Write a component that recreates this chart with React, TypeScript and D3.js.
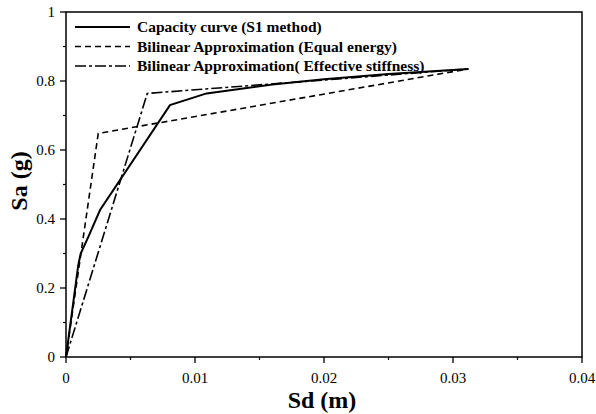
import * as d3 from "d3";

const width = 596;
const height = 414;
const margin = { top: 12, right: 14, bottom: 57, left: 66 };
const innerWidth = width - margin.left - margin.right;
const innerHeight = height - margin.top - margin.bottom;

// capacity curve (S1 method)
const capSd = [0, 0.00095, 0.00114, 0.00173, 0.00264, 0.00806, 0.0109, 0.016, 0.02, 0.025, 0.0312];
const capSa = [0, 0.266, 0.3, 0.348, 0.426, 0.73, 0.764, 0.79, 0.805, 0.82, 0.835];

// bilinear, equal energy
const eqSd = [0, 0.0025, 0.0312];
const eqSa = [0, 0.648, 0.835];

// bilinear, effective stiffness
const effSd = [0, 0.0063, 0.0312];
const effSa = [0, 0.764, 0.835];

const xTicks = [0, 0.01, 0.02, 0.03, 0.04];
const xTickLabels = ["0", "0.01", "0.02", "0.03", "0.04"];
const yTicks = [0, 0.2, 0.4, 0.6, 0.8, 1];
const yTickLabels = ["0", "0.2", "0.4", "0.6", "0.8", "1"];
const xMinor = [0.005, 0.015, 0.025, 0.035];
const yMinor = [0.1, 0.3, 0.5, 0.7, 0.9];

const legendLabels = [
  "Capacity curve (S1 method)",
  "Bilinear Approximation (Equal energy)",
  "Bilinear Approximation( Effective stiffness)",
];
const dashes = ["none", "6,4", "11,3,3,3"];
const widths = [2, 1.6, 1.6];

export default function App() {
  const x = d3.scaleLinear().domain([0, 0.04]).range([0, innerWidth]);
  const y = d3.scaleLinear().domain([0, 1]).range([innerHeight, 0]);

  const line = d3
    .line<[number, number]>()
    .x((d) => x(d[0]))
    .y((d) => y(d[1]));

  const series = [
    d3.zip(capSd, capSa) as [number, number][],
    d3.zip(eqSd, eqSa) as [number, number][],
    d3.zip(effSd, effSa) as [number, number][],
  ];

  const font = "'Liberation Serif', 'Times New Roman', serif";

  return (
    <svg width={width} height={height} style={{ position: "absolute", left: 0, top: 0 }}>
      <rect width={width} height={height} fill="#fff" />
      <g transform={`translate(${margin.left},${margin.top})`}>
        {series.map((s, i) => (
          <path
            key={i}
            d={line(s) ?? ""}
            fill="none"
            stroke="#000"
            strokeWidth={widths[i]}
            strokeDasharray={dashes[i]}
          />
        ))}

        <rect width={innerWidth} height={innerHeight} fill="none" stroke="#000" strokeWidth={1.5} />

        {xTicks.map((t, i) => (
          <g key={i} transform={`translate(${x(t)},${innerHeight})`}>
            <line y1={0} y2={6} stroke="#000" strokeWidth={1.3} />
            <text y={26} textAnchor="middle" fontFamily={font} fontSize={15}>
              {xTickLabels[i]}
            </text>
          </g>
        ))}
        {xMinor.map((t, i) => (
          <line key={i} x1={x(t)} x2={x(t)} y1={innerHeight} y2={innerHeight + 3} stroke="#000" strokeWidth={1.2} />
        ))}

        {yTicks.map((t, i) => (
          <g key={i} transform={`translate(0,${y(t)})`}>
            <line x1={-6} x2={0} stroke="#000" strokeWidth={1.3} />
            <text x={-11} dy="0.33em" textAnchor="end" fontFamily={font} fontSize={15}>
              {yTickLabels[i]}
            </text>
          </g>
        ))}
        {yMinor.map((t, i) => (
          <line key={i} x1={-3} x2={0} y1={y(t)} y2={y(t)} stroke="#000" strokeWidth={1.2} />
        ))}

        {legendLabels.map((l, i) => (
          <g key={i} transform={`translate(9,${15 + i * 19.5})`}>
            <line x1={0} x2={55} stroke="#000" strokeWidth={widths[i]} strokeDasharray={dashes[i]} />
            <text x={62} dy="0.35em" fontFamily={font} fontSize={15.5} fontWeight="bold">
              {l}
            </text>
          </g>
        ))}
      </g>

      <text
        transform={`translate(27,181) rotate(-90)`}
        textAnchor="middle"
        fontFamily={font}
        fontSize={24}
        fontWeight="bold"
      >
        Sa (g)
      </text>
      <text
        x={322}
        y={408}
        textAnchor="middle"
        fontFamily={font}
        fontSize={24}
        fontWeight="bold"
      >
        Sd (m)
      </text>
    </svg>
  );
}
